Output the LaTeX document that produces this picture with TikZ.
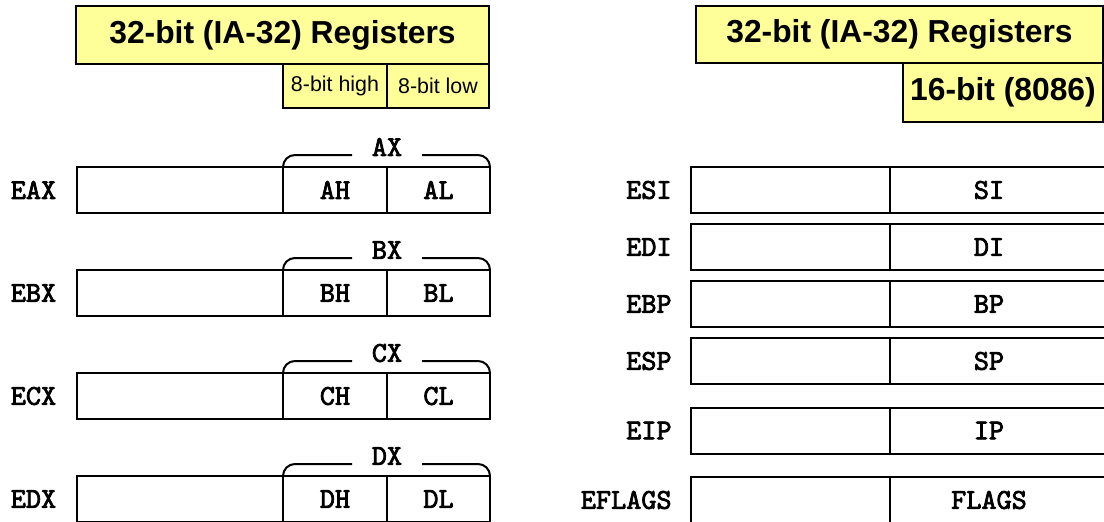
\documentclass[tikz,border=0pt]{standalone}
\usepackage{fontspec}
\setmainfont{Liberation Sans}
\newfontfamily\regfont{lmmono10-regular}[Extension=.otf, FakeBold=2.6]
\newcommand{\regfnt}{\regfont\fontsize{14.4}{16}\selectfont}
\definecolor{titleyellow}{HTML}{FFFF99}
\tikzset{
  title/.style={draw=black, line width=0.6pt, fill=titleyellow, inner sep=0pt, outer sep=0pt,
    font=\fontsize{15.9}{18}\selectfont\bfseries},
  subtitle/.style={draw=black, line width=0.6pt, fill=titleyellow, inner sep=0pt, outer sep=0pt,
    font=\fontsize{10.7}{12}\selectfont},
  cell/.style={draw=black, line width=1pt, inner sep=0pt, outer sep=0pt, minimum height=23pt,
    font=\regfnt},
  lbl/.style={inner sep=0pt, font=\regfnt},
  brace/.style={draw=black, line width=1pt, rounded corners=6pt}
}
\begin{document}
\begin{tikzpicture}[x=0.5pt,y=-0.5pt]
\useasboundingbox (0,0) rectangle (1104,521);
\clip (0,0) rectangle (1104,521);
% ---- left titles
\node[title, minimum width=206.5pt, minimum height=29pt] (lt) at (282.5,35) {32-bit (IA-32) Registers};
\node[subtitle, minimum width=52pt, minimum height=22pt] (hi) at (335,86) {8-bit high};
\node[subtitle, minimum width=51pt, minimum height=22pt] (lo) at (438,86) {8-bit low};
% ---- right titles
\node[title, minimum width=203.5pt, minimum height=28.5pt] (rt) at (899.5,34.5) {32-bit (IA-32) Registers};
\node[title, minimum width=100pt, minimum height=29.5pt] (r16) at (1003,92.5) {16-bit (8086)};
% ---- left registers
\foreach \r/\y/\ee/\hh/\ll in {a/190/EAX/AH/AL, b/293/EBX/BH/BL, c/396/ECX/CH/CL, d/499/EDX/DH/DL}{
  \node[lbl] (e\r x) at (33.5,\y) {\ee};
  \node[cell, minimum width=103pt] (e\r 0) at (180,\y) {};
  \node[cell, minimum width=52pt] (e\r 1) at (335,\y) {\hh};
  \node[cell, minimum width=51.5pt] (e\r 2) at (438.5,\y) {\ll};
}
\node[lbl] (ax) at (387,147) {AX};
\node[lbl] (bx) at (387,250) {BX};
\node[lbl] (cx) at (387,353) {CX};
\node[lbl] (dx) at (387,456) {DX};
\foreach \r/\b in {a/155, b/258, c/361, d/464}{
  \coordinate (\r gl) at (352,\b);
  \coordinate (\r gr) at (422,\b);
  \draw[brace] (e\r 1.north west) |- (\r gl);
  \draw[brace] (\r gr) -| (e\r 2.north east);
}
% ---- right registers
\foreach \n/\y/\s in {esi/190/SI, edi/247/DI, ebp/304/BP, esp/361/SP, eip/430.5/IP, eflags/500/FLAGS}{
  \node[cell, minimum width=99.5pt] (\n0) at (790.5,\y) {};
  \node[cell, minimum width=125pt] (\n1) at (1015,\y) {};
  \node[lbl] (\n t) at (989,\y) {\s};
}
\node[lbl, anchor=east] (esil) at (672,190) {ESI};
\node[lbl, anchor=east] (edil) at (672,247) {EDI};
\node[lbl, anchor=east] (ebpl) at (672,304) {EBP};
\node[lbl, anchor=east] (espl) at (672,361) {ESP};
\node[lbl, anchor=east] (eipl) at (672,430.5) {EIP};
\node[lbl, anchor=east] (eflagsl) at (672,500) {EFLAGS};
\end{tikzpicture}
\end{document}
